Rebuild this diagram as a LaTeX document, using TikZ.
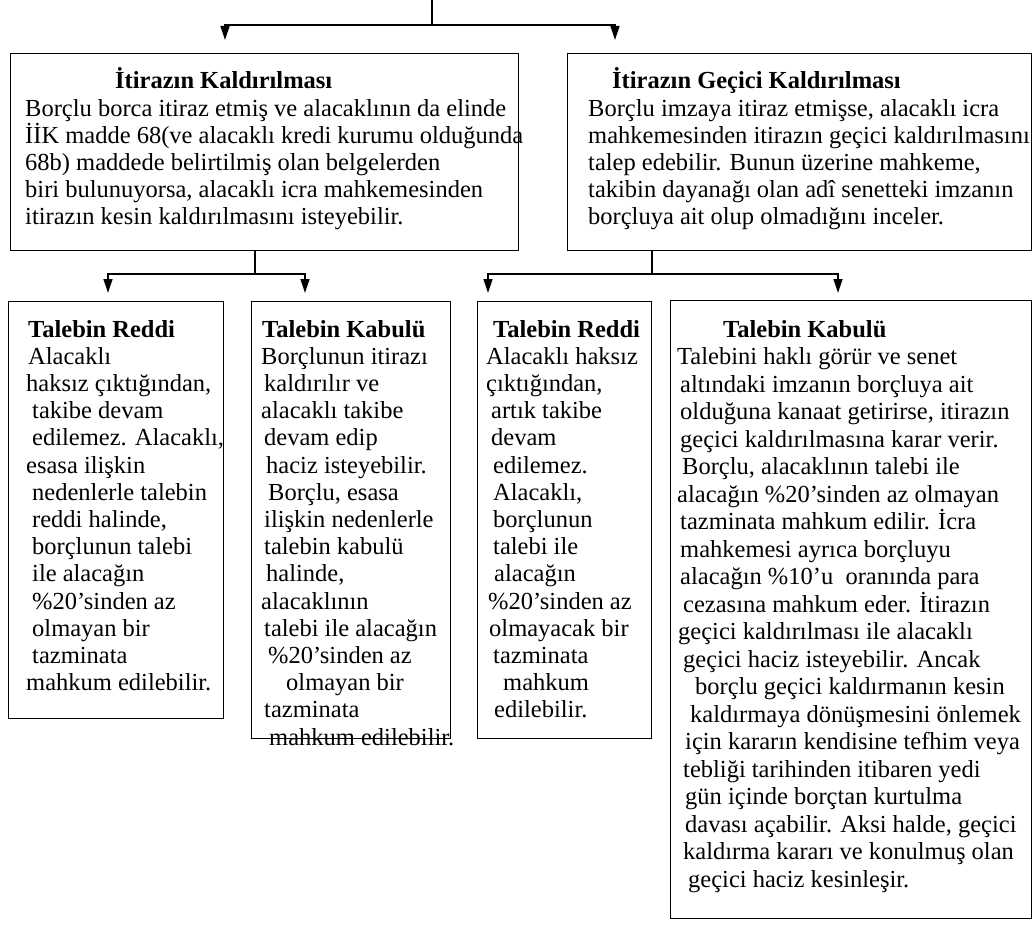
\documentclass[tikz,border=0pt]{standalone}
\usepackage{fontspec}
\setmainfont{Liberation Serif}
\usetikzlibrary{arrows.meta}
\tikzset{
  box/.style={draw, line width=1.3pt, inner sep=0pt, anchor=north west},
  txt/.style={inner sep=0pt, anchor=base west, font=\fontsize{24.5}{27.2}\selectfont},
  conn/.style={line width=1.3pt},
  arr/.style={conn, -{Triangle[width=9pt,length=14pt]}},
}
\newcommand\tl[1]{\hspace*{#1pt}}
\begin{document}
\begin{tikzpicture}[x=1pt,y=-1pt]
\useasboundingbox (0,0) rectangle (1036,928);
% boxes
\node[box, minimum width=508pt, minimum height=197pt] (b1) at (10,53) {};
\node[box, minimum width=464pt, minimum height=197pt] (b2) at (567,53) {};
\node[box, minimum width=215pt, minimum height=417pt] (b3) at (8,301) {};
\node[box, minimum width=199pt, minimum height=437pt] (b4) at (251,301) {};
\node[box, minimum width=174pt, minimum height=437pt] (b5) at (477,301) {};
\node[box, minimum width=361pt, minimum height=618pt] (b6) at (670,300) {};
% connectors
\coordinate (top) at (432,0);
\coordinate (j0) at (432,25);
\coordinate (a1) at (225,40);
\coordinate (a2) at (615,40);
\draw[conn] (top) -- (j0);
\draw[arr] (j0) -| (a1);
\draw[arr] (j0) -| (a2);
\coordinate (j1) at (255,274);
\coordinate (a3) at (108,293);
\coordinate (a4) at (305,293);
\draw[conn] (b1.south -| j1) -- (j1);
\draw[arr] (j1) -| (a3);
\draw[arr] (j1) -| (a4);
\coordinate (j2) at (652,274);
\coordinate (a5) at (488,293);
\coordinate (a6) at (838,293);
\draw[conn] (b2.south -| j2) -- (j2);
\draw[arr] (j2) -| (a5);
\draw[arr] (j2) -| (a6);
% texts
\node[txt] (t1) at (25,89) {\parbox[t]{500pt}{%
\tl{90}\textbf{İtirazın Kaldırılması}\\
Borçlu borca itiraz etmiş ve alacaklının da elinde\\
İİK madde 68(ve alacaklı kredi kurumu olduğunda\\
68b) maddede belirtilmiş olan belgelerden\\
biri bulunuyorsa, alacaklı icra mahkemesinden\\
itirazın kesin kaldırılmasını isteyebilir.}};
\node[txt] (t2) at (588,89) {\parbox[t]{460pt}{%
\tl{24}\textbf{İtirazın Geçici Kaldırılması}\\
Borçlu imzaya itiraz etmişse, alacaklı icra\\
mahkemesinden itirazın geçici kaldırılmasını\\
talep edebilir. Bunun üzerine mahkeme,\\
takibin dayanağı olan adî senetteki imzanın\\
borçluya ait olup olmadığını inceler.}};
\node[txt] (t3) at (26,337) {\parbox[t]{210pt}{%
\tl{2}\textbf{Talebin Reddi}\\
\tl{2}Alacaklı\\
haksız çıktığından,\\
\tl{6}takibe devam\\
\tl{6}edilemez. Alacaklı,\\
esasa ilişkin\\
\tl{6}nedenlerle talebin\\
\tl{6}reddi halinde,\\
\tl{6}borçlunun talebi\\
\tl{6}ile alacağın\\
\tl{6}\%20’sinden az\\
\tl{6}olmayan bir\\
\tl{6}tazminata\\
mahkum edilebilir.}};
\node[txt] (t4) at (261,337) {\parbox[t]{200pt}{%
\tl{1}\textbf{Talebin Kabulü}\\
Borçlunun itirazı\\
\tl{3}kaldırılır ve\\
alacaklı takibe\\
\tl{3}devam edip\\
\tl{5}haciz isteyebilir.\\
\tl{7}Borçlu, esasa\\
\tl{3}ilişkin nedenlerle\\
\tl{3}talebin kabulü\\
\tl{5}halinde,\\
alacaklının\\
\tl{3}talebi ile alacağın\\
\tl{7}\%20’sinden az\\
\tl{25}olmayan bir\\
\tl{3}tazminata\\
\tl{8}mahkum edilebilir.}};
\node[txt] (t5) at (486,337) {\parbox[t]{180pt}{%
\tl{7}\textbf{Talebin Reddi}\\
Alacaklı haksız\\
çıktığından,\\
\tl{5}artık takibe\\
\tl{5}devam\\
\tl{7}edilemez.\\
\tl{7}Alacaklı,\\
\tl{7}borçlunun\\
\tl{7}talebi ile\\
\tl{8}alacağın\\
\tl{2}\%20’sinden az\\
\tl{3}olmayacak bir\\
\tl{7}tazminata\\
\tl{17}mahkum\\
\tl{8}edilebilir.}};
\node[txt, font=\fontsize{24.5}{27.5}\selectfont] (t6) at (677,337) {\parbox[t]{370pt}{%
\tl{46}\textbf{Talebin Kabulü}\\
Talebini haklı görür ve senet\\
\tl{3}altındaki imzanın borçluya ait\\
\tl{3}olduğuna kanaat getirirse, itirazın\\
\tl{3}geçici kaldırılmasına karar verir.\\
\tl{5}Borçlu, alacaklının talebi ile\\
alacağın \%20’sinden az olmayan\\
\tl{3}tazminata mahkum edilir. İcra\\
\tl{3}mahkemesi ayrıca borçluyu\\
\tl{3}alacağın \%10’u\ \ oranında para\\
\tl{6}cezasına mahkum eder. İtirazın\\
\tl{1}geçici kaldırılması ile alacaklı\\
\tl{6}geçici haciz isteyebilir. Ancak\\
\tl{18}borçlu geçici kaldırmanın kesin\\
\tl{13}kaldırmaya dönüşmesini önlemek\\
\tl{8}için kararın kendisine tefhim veya\\
\tl{6}tebliği tarihinden itibaren yedi\\
\tl{8}gün içinde borçtan kurtulma\\
\tl{8}davası açabilir. Aksi halde, geçici\\
\tl{6}kaldırma kararı ve konulmuş olan\\
\tl{11}geçici haciz kesinleşir.}};
\end{tikzpicture}
\end{document}
